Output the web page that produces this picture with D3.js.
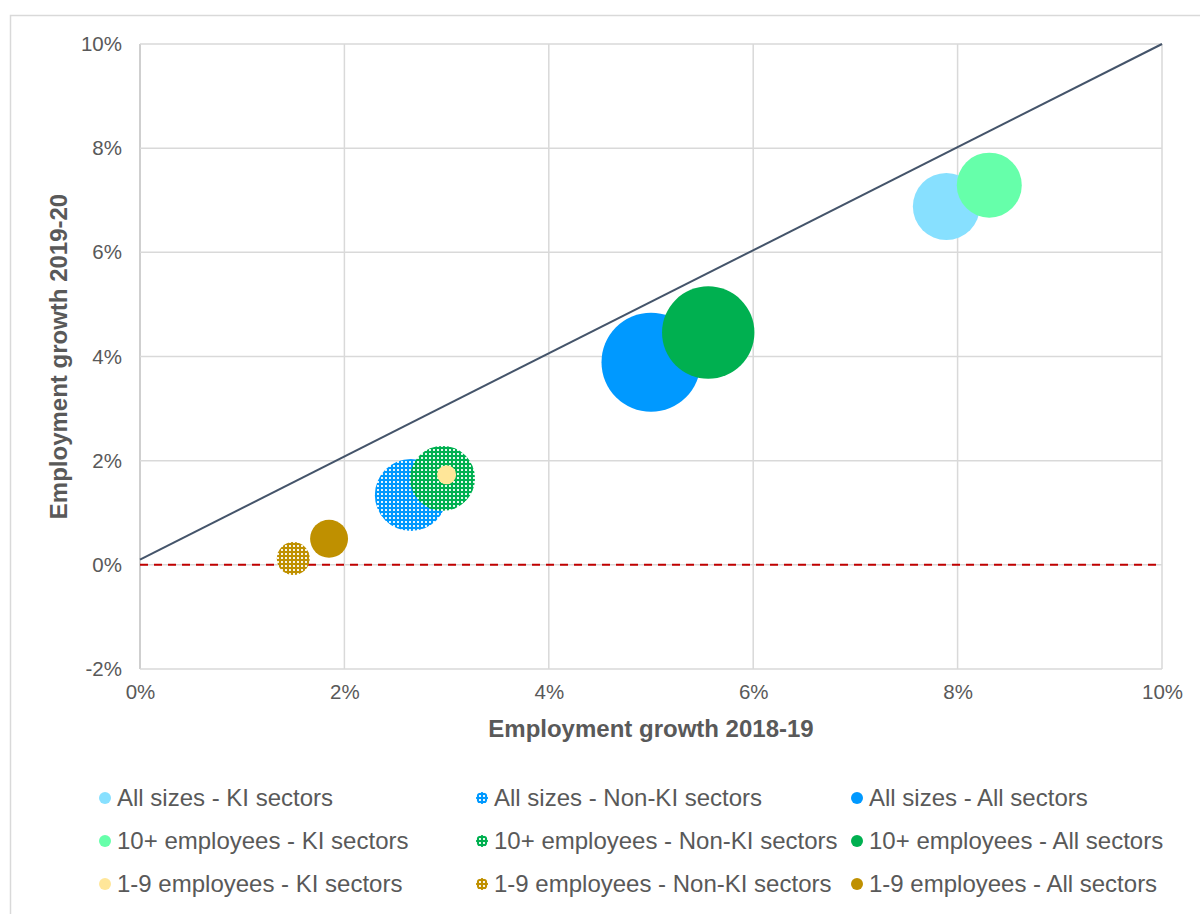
<!DOCTYPE html>
<html>
<head>
<meta charset="utf-8">
<script src="https://cdn.jsdelivr.net/npm/d3@7"></script>
<style>
  html, body { margin: 0; padding: 0; background: #fff; }
  svg { display: block; font-family: "Liberation Sans", Arial, sans-serif; }
</style>
</head>
<body>
<svg id="chart" width="1200" height="914"></svg>
<script>
// Series (one bubble each), in drawing / legend order
const seriesNames = [
  "All sizes - KI sectors", "All sizes - Non-KI sectors", "All sizes - All sectors",
  "10+ employees - KI sectors", "10+ employees - Non-KI sectors", "10+ employees - All sectors",
  "1-9 employees - KI sectors", "1-9 employees - Non-KI sectors", "1-9 employees - All sectors"
];
// Employment growth, %
const growth2018 = [7.89, 2.65, 5.00, 8.31, 2.96, 5.56, 3.00, 1.50, 1.85];
const growth2019 = [6.88, 1.34, 3.89, 7.29, 1.66, 4.46, 1.73, 0.12, 0.50];
// Relative bubble size (area)
const bubbleSize = [45.8, 52.9, 100, 43.1, 43.1, 87.1, 3.7, 11.1, 14.7];
const seriesColors = ["#87E0FF", "#0099FF", "#0099FF", "#66FFAA", "#00B050", "#00B050", "#FFE699", "#BF9000", "#BF9000"];
const patterned = [false, true, false, false, true, false, false, true, false];

// Reference line (equal growth in both years) and zero line
const parityLine = [[0, 0.1], [10, 10]];
const zeroLine = [[0, 0], [10, 0]];

const xTicks = [0, 2, 4, 6, 8, 10];
const yTicks = [-2, 0, 2, 4, 6, 8, 10];
const xTitle = "Employment growth 2018-19";
const yTitle = "Employment growth 2019-20";

const svg = d3.select("#chart");
const plot = { left: 140, right: 1162, top: 44, bottom: 669 };

const x = d3.scaleLinear().domain([0, 10]).range([plot.left, plot.right]);
const y = d3.scaleLinear().domain([-2, 10]).range([plot.bottom, plot.top]);
const r = d3.scaleSqrt().domain([0, 100]).range([0, 49.5]);
const fmt = d => d + "%";

// Dotted fill patterns for the Non-KI series
const defs = svg.append("defs");
seriesColors.forEach((c, i) => {
  if (!patterned[i]) return;
  const p = defs.append("pattern")
    .attr("id", "dots" + i)
    .attr("patternUnits", "userSpaceOnUse")
    .attr("width", 4).attr("height", 4);
  p.append("rect").attr("width", 4).attr("height", 4).attr("fill", c);
  p.append("rect").attr("x", 1).attr("y", 1).attr("width", 2).attr("height", 2).attr("fill", "#fff").attr("opacity", 0.9);
});
const fillOf = i => patterned[i] ? `url(#dots${i})` : seriesColors[i];

// Outer chart frame
svg.append("rect")
  .attr("x", 10.5).attr("y", 15.5)
  .attr("width", 1200).attr("height", 914)
  .attr("fill", "none").attr("stroke", "#D9D9D9").attr("stroke-width", 1.5);

// Gridlines
const grid = svg.append("g");
grid.selectAll(".gx").data(xTicks).join("line")
  .attr("x1", d => x(d)).attr("x2", d => x(d))
  .attr("y1", plot.top).attr("y2", plot.bottom)
  .attr("stroke", d => d === 0 ? "#BFBFBF" : "#D9D9D9").attr("stroke-width", 1.5);
grid.selectAll(".gy").data(yTicks).join("line")
  .attr("x1", plot.left).attr("x2", plot.right)
  .attr("y1", d => y(d)).attr("y2", d => y(d))
  .attr("stroke", "#D9D9D9").attr("stroke-width", 1.5);

// Axes (labels only)
const xAxis = svg.append("g")
  .attr("transform", `translate(0,${plot.bottom + 10})`)
  .call(d3.axisBottom(x).tickValues(xTicks).tickFormat(fmt).tickSize(0).tickPadding(5));
const yAxis = svg.append("g")
  .attr("transform", `translate(${plot.left - 18},0)`)
  .call(d3.axisLeft(y).tickValues(yTicks).tickFormat(fmt).tickSize(0).tickPadding(0));
[xAxis, yAxis].forEach(a => {
  a.select(".domain").remove();
  a.selectAll("text")
    .attr("font-family", "Liberation Sans, Arial, sans-serif")
    .attr("font-size", 20.5).attr("fill", "#595959");
});

// Zero line
const line = d3.line().x(d => x(d[0])).y(d => y(d[1]));
svg.append("path").datum(zeroLine).attr("d", line)
  .attr("fill", "none").attr("stroke", "#C00000").attr("stroke-width", 2)
  .attr("stroke-dasharray", "8,6");

// Parity line
svg.append("path").datum(parityLine).attr("d", line)
  .attr("fill", "none").attr("stroke", "#44546A").attr("stroke-width", 2);

// Bubbles
svg.append("g").selectAll("circle")
  .data(seriesNames.map((n, i) => i))
  .join("circle")
  .attr("cx", i => x(growth2018[i]))
  .attr("cy", i => y(growth2019[i]))
  .attr("r", i => r(bubbleSize[i]))
  .attr("fill", i => fillOf(i));

// Axis titles
svg.append("text")
  .attr("x", (plot.left + plot.right) / 2).attr("y", 737)
  .attr("text-anchor", "middle")
  .attr("font-size", 24).attr("font-weight", "bold").attr("fill", "#595959")
  .text(xTitle);
svg.append("text")
  .attr("transform", `translate(67,${(plot.top + plot.bottom) / 2}) rotate(-90)`)
  .attr("text-anchor", "middle")
  .attr("font-size", 24).attr("font-weight", "bold").attr("fill", "#595959")
  .text(yTitle);

// Legend, three columns
const legendX = [105, 482, 857];
const legendY = [798, 841, 884];
const legend = svg.append("g").selectAll("g")
  .data(seriesNames.map((n, i) => i))
  .join("g")
  .attr("transform", i => `translate(${legendX[i % 3]},${legendY[Math.floor(i / 3)]})`);
legend.append("circle").attr("r", 6).attr("fill", i => fillOf(i));
legend.append("text")
  .attr("x", 12).attr("dy", "0.35em")
  .attr("font-size", 24).attr("fill", "#595959")
  .text(i => seriesNames[i]);
</script>
</body>
</html>
